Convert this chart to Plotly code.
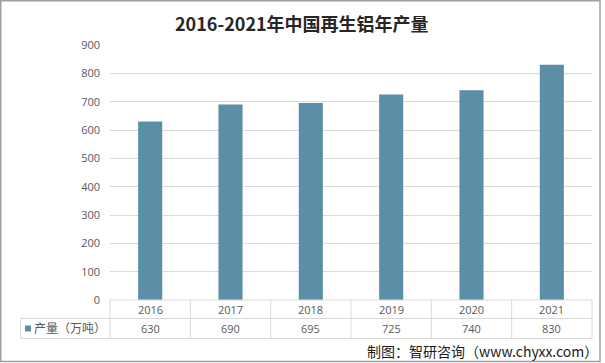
import plotly.graph_objects as go

years = ["2016", "2017", "2018", "2019", "2020", "2021"]
output = [630, 690, 695, 725, 740, 830]
series_name = "产量（万吨）"
title_text = "2016-2021年中国再生铝年产量"
source_text = "制图：智研咨询（www.chyxx.com）"

W, H = 605, 363
L, R, T, B = 110, 13, 45, 63
PW, PH = W - L - R, H - T - B
BAR = "#5B8FA7"
GRID = "#D9D9D9"
TXT = "#595959"
FONT = "Open Sans, Noto Sans CJK SC, sans-serif"

def px_x(px):
    return (px - L) / PW

def px_y(py):
    return (H - B - py) / PH

x_idx = list(range(len(years)))

fig = go.Figure()
fig.add_trace(go.Bar(x=x_idx, y=output, marker=dict(color=BAR, line=dict(width=0)),
                     width=0.3, name=series_name, hoverinfo="y"))

shapes = []
line = dict(color=GRID, width=1)
n = len(years)
# table vertical lines
for i in range(n + 1):
    xp = i / n
    shapes.append(dict(type="line", xref="paper", yref="paper", x0=xp, x1=xp,
                       y0=px_y(300), y1=px_y(338.5), line=line))
# left header border
shapes.append(dict(type="line", xref="paper", yref="paper", x0=px_x(20.5), x1=px_x(20.5),
                   y0=px_y(318.5), y1=px_y(338.5), line=line))
# horizontal table lines
shapes.append(dict(type="line", xref="paper", yref="paper", x0=0, x1=1,
                   y0=px_y(300), y1=px_y(300), line=line))
shapes.append(dict(type="line", xref="paper", yref="paper", x0=px_x(20.5), x1=1,
                   y0=px_y(318.5), y1=px_y(318.5), line=line))
shapes.append(dict(type="line", xref="paper", yref="paper", x0=px_x(20.5), x1=1,
                   y0=px_y(338.5), y1=px_y(338.5), line=line))
# legend key square
shapes.append(dict(type="rect", xref="paper", yref="paper", x0=px_x(25), x1=px_x(31),
                   y0=px_y(325.5), y1=px_y(331.5), fillcolor=BAR, line=dict(width=0)))
# outer border
shapes.append(dict(type="rect", xref="paper", yref="paper", x0=px_x(0.75), x1=px_x(600),
                   y0=px_y(0.75), y1=px_y(361.5), line=dict(color="#A0A0A0", width=1.5)))

annotations = []
for i, (yr, v) in enumerate(zip(years, output)):
    annotations.append(dict(x=i, y=px_y(309.5), xref="x", yref="paper", text=yr,
                            showarrow=False, font=dict(family=FONT, size=11, color=TXT),
                            xanchor="center", yanchor="middle"))
    annotations.append(dict(x=i, y=px_y(328.5), xref="x", yref="paper", text=str(v),
                            showarrow=False, font=dict(family=FONT, size=11, color=TXT),
                            xanchor="center", yanchor="middle"))
annotations.append(dict(x=px_x(32), y=px_y(328.5), xref="paper", yref="paper", text=series_name,
                        showarrow=False, font=dict(family=FONT, size=12, color=TXT),
                        xanchor="left", yanchor="middle"))
annotations.append(dict(x=px_x(302), y=px_y(23), xref="paper", yref="paper",
                        text="<b>" + title_text + "</b>", showarrow=False,
                        font=dict(family="Noto Sans CJK SC, sans-serif", size=18, color="#262626"),
                        xanchor="center", yanchor="middle"))
annotations.append(dict(x=px_x(600), y=px_y(351), xref="paper", yref="paper",
                        text=source_text, showarrow=False,
                        font=dict(family="Noto Sans CJK SC, sans-serif", size=14, color="#1a1a1a"),
                        xanchor="right", yanchor="middle"))

fig.update_layout(
    width=W, height=H,
    margin=dict(l=L, r=R, t=T, b=B, pad=0),
    paper_bgcolor="white", plot_bgcolor="white",
    showlegend=False,
    bargap=0.7,
    xaxis=dict(range=[-0.5, n - 0.5], showticklabels=False, showgrid=False,
               zeroline=False, showline=False, ticks="", fixedrange=True),
    yaxis=dict(range=[0, 900], dtick=100, tick0=0, showgrid=True, gridcolor=GRID, gridwidth=1,
               zeroline=False, showline=False, ticks="", ticklabelstandoff=9,
               tickfont=dict(family=FONT, size=11, color=TXT), fixedrange=True),
    shapes=shapes,
    annotations=annotations,
)

fig.write_html("out.html", config={"displayModeBar": False},
               post_script="document.body.style.margin='0';document.body.style.overflow='hidden';")
